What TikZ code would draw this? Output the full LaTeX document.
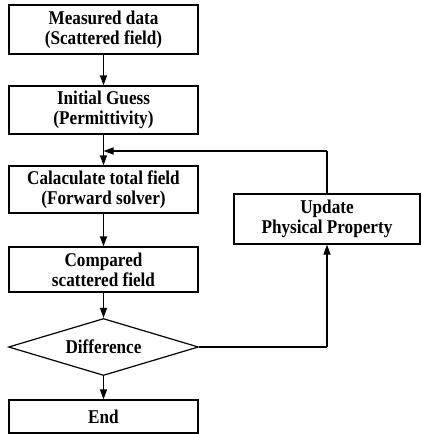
\documentclass[tikz,border=0pt]{standalone}
\usepackage{fontspec}
\setmainfont{Liberation Serif}[FakeStretch=0.88]
\usetikzlibrary{shapes.geometric,arrows.meta}
\tikzset{
  box/.style={draw, line width=1.2pt, minimum width=189pt, inner sep=0pt, align=center,
    font=\fontsize{19.5}{20}\selectfont\bfseries},
  dia/.style={draw, diamond, shape aspect=3.33, line width=1.2pt, minimum width=190pt, minimum height=57pt,
    inner sep=0pt, align=center, font=\fontsize{19.5}{20}\selectfont\bfseries},
  conn/.style={line width=1.2pt, -{Triangle[length=10pt,width=7pt]}},
  plain/.style={line width=1.2pt}
}
\begin{document}
\begin{tikzpicture}[x=1pt,y=1pt]
\useasboundingbox (0,0) rectangle (421,-434);
\node[box, minimum height=49pt] (b1) at (103.5,-29.5) {Measured data\\(Scattered field)};
\node[box, minimum height=48pt] (b2) at (103.5,-110) {Initial Guess\\(Permittivity)};
\node[box, minimum height=47pt] (b3) at (103.5,-189.5) {Calaculate total field\\(Forward solver)};
\node[box, minimum height=45pt] (b4) at (103.5,-269.5) {Compared\\scattered field};
\node[dia] (d) at (103.5,-347) {Difference};
\node[box, minimum height=33pt] (e) at (103.5,-416.5) {End};
\node[box, minimum width=186pt, minimum height=50pt] (u) at (327,-219) {Update\\Physical Property};
\coordinate (j) at (103.5,-151);
\coordinate (c1) at (327,-151);
\coordinate (c2) at (327,-347);
\draw[conn] (b1) -- (b2);
\draw[conn] (b2) -- (b3);
\draw[conn] (b3) -- (b4);
\draw[conn] (b4) -- (d);
\draw[conn] (d) -- (e);
\draw[plain] (d.east) -- (c2);
\draw[conn] (c2) -- (u.south);
\draw[plain] (u.north) -- (c1);
\draw[conn] (c1) -- (j);
\end{tikzpicture}
\end{document}
